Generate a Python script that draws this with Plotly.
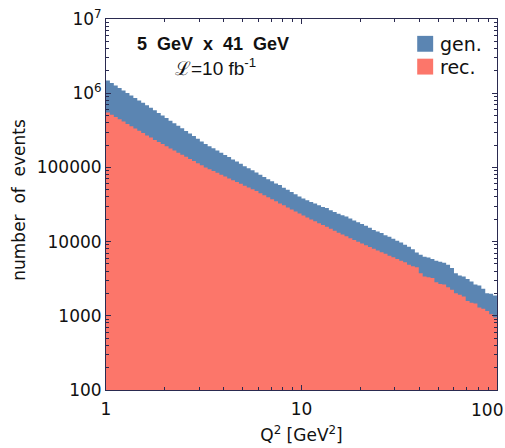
import numpy as np
import plotly.graph_objects as go

# Q^2 binning: 100 log-spaced bins between 1 and 100 GeV^2
q2_edges = np.logspace(0, 2, 101)

gen_counts = [
    1480000, 1370000, 1268000, 1175000, 1089000, 1007000, 933000, 865000, 800000, 741000,
    687000, 635000, 589000, 543000, 501000, 462000, 427000, 394000, 364000, 336000,
    310000, 286000, 264000, 243000, 224000, 207000, 193000, 181000, 169000, 157000,
    147000, 138000, 128000, 120000, 112000, 104000, 97500, 91200, 85100, 79600,
    74500, 69500, 65000, 60800, 57800, 53200, 49800, 46500, 43500, 40600,
    38000, 36100, 34300, 32500, 30900, 29300, 28300, 26400, 25100, 23800,
    22600, 21800, 20400, 19300, 18200, 17200, 16300, 15400, 14300, 13700,
    13100, 12200, 11600, 10900, 10300,
    9730, 9040, 8490, 7910, 7140, 6640, 6250, 6120, 5820, 5520,
    5360, 5200, 4890, 4410, 3740, 3480, 3380, 3140, 2900, 2640,
    2560, 2310, 2020, 1980, 1880,
]

rec_counts = [
    550000, 512000, 477000, 445000, 414000, 385000, 359000, 334000, 311000, 290000,
    270000, 252000, 234000, 220000, 206000, 193000, 180000, 169000, 158000, 148000,
    139000, 130000, 122000, 114000, 107000, 100000, 94500, 89300, 84400, 79800,
    75400, 71100, 67300, 63500, 60000, 56800, 53600, 50700, 47900, 44900,
    42200, 39600, 37200, 34900, 32700, 30800, 28800, 27100, 25400, 23900,
    22400, 21100, 19900, 18800, 17700, 16700, 15800, 14900, 14000, 13200,
    12500, 11800, 11100, 10500, 9930, 9420, 8910, 8450, 8020, 7600,
    7210, 6840, 6470, 6140, 5820,
    5520, 5250, 4890, 4650, 4500, 3740, 3380, 3310, 3240, 2840,
    2690, 2640, 2430, 2240, 2020, 1920, 1820, 1580, 1500, 1460,
    1290, 1240, 1160, 1050, 946,
]

y_tickvals = [100, 1000, 10000, 100000, 1e6, 1e7]
y_ticktext = ['100', '1000', '10000', '100000', '10<sup>6</sup>', '10<sup>7</sup>']
x_tickvals = [1, 10]
x_ticktext = ['1', '10']

BLUE = '#5b85b2'
RED = '#fc766a'
FRAME = '#2a2a50'
FONT = 'DejaVu Sans'

W, H = 505, 448
L, R, T, B = 106, 7, 18, 56
PW, PH = W - L - R, H - T - B


def px(x):   # pixel -> paper x
    return (x - L) / PW


def py(y):   # pixel -> paper y
    return (H - B - y) / PH


def step_polygon(edges, counts, floor=1):
    xs, ys = [edges[0]], [floor]
    for i, c in enumerate(counts):
        xs += [edges[i], edges[i + 1]]
        ys += [c, c]
    xs.append(edges[-1])
    ys.append(floor)
    return xs, ys


fig = go.Figure()
for counts, color, name in [(gen_counts, BLUE, 'gen.'), (rec_counts, RED, 'rec.')]:
    xs, ys = step_polygon(q2_edges, counts)
    fig.add_trace(go.Scatter(x=xs, y=ys, mode='lines', fill='toself', fillcolor=color,
                             line=dict(width=0, color=color), name=name, hoverinfo='skip'))

axis_common = dict(
    type='log', showgrid=False, zeroline=False, showline=True, linecolor=FRAME, linewidth=1,
    mirror='ticks', ticks='inside', ticklen=5, tickcolor=FRAME,
    tickfont=dict(family=FONT, size=17, color='#111'),
    minor=dict(ticks='inside', ticklen=3, tickcolor=FRAME, dtick='D1', showgrid=False),
)

fig.update_layout(
    width=W, height=H,
    margin=dict(l=L, r=R, t=T, b=B),
    paper_bgcolor='white', plot_bgcolor='white',
    showlegend=False,
    font=dict(family=FONT, color='#111'),
    xaxis=dict(axis_common, range=[0, 2.0001], tickvals=x_tickvals, ticktext=x_ticktext,
               ticklabelstandoff=4,
               title=dict(text='Q<sup>2</sup> [GeV<sup>2</sup>]', font=dict(size=17), standoff=10)),
    yaxis=dict(axis_common, range=[1.9999, 7.0001], tickvals=y_tickvals, ticktext=y_ticktext),
)

# "100" label at right end of x axis (shifted inward like the original)
fig.add_annotation(x=2, y=0, xref='x', yref='paper', text='100', showarrow=False,
                   xanchor='center', yanchor='top', xshift=-10, yshift=-8,
                   font=dict(family=FONT, size=17, color='#111'))

# y axis title
fig.add_annotation(x=px(18), y=py(200), xref='paper', yref='paper', text='number  of  events',
                   textangle=-90, showarrow=False, xanchor='center', yanchor='middle',
                   font=dict(family=FONT, size=17, color='#111'))

# beam energy + luminosity labels
fig.add_annotation(x=px(213), y=py(43), xref='paper', yref='paper',
                   text='<b>5\u00a0 GeV\u00a0 x\u00a0 41\u00a0 GeV</b>', showarrow=False,
                   xanchor='center', yanchor='middle',
                   font=dict(family='Liberation Sans', size=18, color='#111'))
fig.add_annotation(x=px(216), y=py(66), xref='paper', yref='paper',
                   text='\u2112=10 fb<sup>-1</sup>', showarrow=False,
                   xanchor='center', yanchor='middle',
                   font=dict(family='Liberation Sans', size=19, color='#111'))

# legend boxes
for color, label, y0, y1, yt in [(BLUE, 'gen.', 35, 51, 43), (RED, 'rec.', 58, 74, 66)]:
    fig.add_shape(type='rect', xref='paper', yref='paper', x0=px(418), x1=px(434),
                  y0=py(y1), y1=py(y0), fillcolor=color, line=dict(width=0))
    fig.add_annotation(x=px(439), y=py(yt), xref='paper', yref='paper', text=label,
                       showarrow=False, xanchor='left', yanchor='middle',
                       font=dict(family=FONT, size=19, color='#111'))

# the page body has a default 8px margin; drop it so the figure sits at the top-left corner
fig.write_html("out.html", config={'displayModeBar': False},
               post_script="document.body.style.margin = '0';")
